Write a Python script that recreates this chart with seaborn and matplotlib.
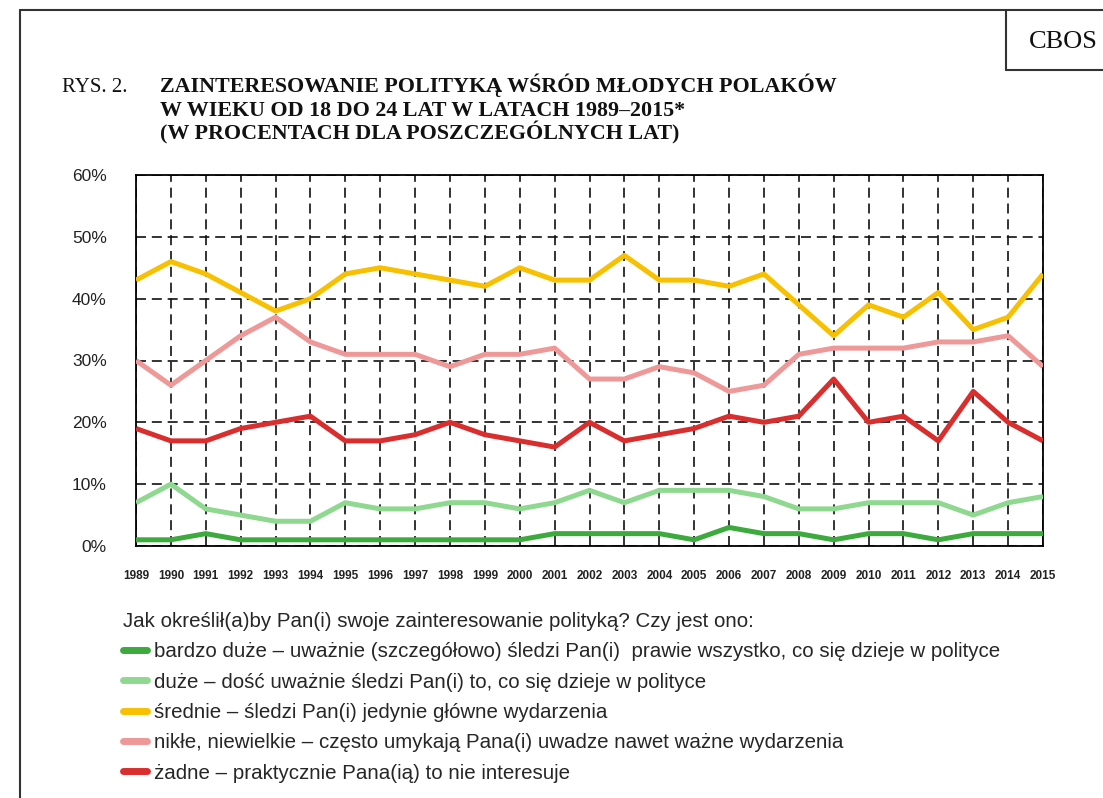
import matplotlib
matplotlib.use("Agg")
import matplotlib.pyplot as plt
from matplotlib import font_manager
from matplotlib.lines import Line2D
import seaborn as sns
import pandas as pd

years = list(range(1989, 2016))
bardzo_duze = [1, 1, 2, 1, 1, 1, 1, 1, 1, 1, 1, 1, 2, 2, 2, 2, 1, 3, 2, 2, 1, 2, 2, 1, 2, 2, 2]
duze = [7, 10, 6, 5, 4, 4, 7, 6, 6, 7, 7, 6, 7, 9, 7, 9, 9, 9, 8, 6, 6, 7, 7, 7, 5, 7, 8]
srednie = [43, 46, 44, 41, 38, 40, 44, 45, 44, 43, 42, 45, 43, 43, 47, 43, 43, 42, 44, 39, 34, 39, 37, 41, 35, 37, 44]
nikle = [30, 26, 30, 34, 37, 33, 31, 31, 31, 29, 31, 31, 32, 27, 27, 29, 28, 25, 26, 31, 32, 32, 32, 33, 33, 34, 29]
zadne = [19, 17, 17, 19, 20, 21, 17, 17, 18, 20, 18, 17, 16, 20, 17, 18, 19, 21, 20, 21, 27, 20, 21, 17, 25, 20, 17]

series_labels = [
    "bardzo duże – uważnie (szczegółowo) śledzi Pan(i)  prawie wszystko, co się dzieje w polityce",
    "duże – dość uważnie śledzi Pan(i) to, co się dzieje w polityce",
    "średnie – śledzi Pan(i) jedynie główne wydarzenia",
    "nikłe, niewielkie – często umykają Pana(i) uwadze nawet ważne wydarzenia",
    "żadne – praktycznie Pana(ią) to nie interesuje",
]
series_values = [bardzo_duze, duze, srednie, nikle, zadne]
colors = ["#3DAA3D", "#8FD88F", "#F7C000", "#EE9898", "#D92E2E"]
y_ticks = [0, 10, 20, 30, 40, 50, 60]
y_tick_labels = [f"{v}%" for v in y_ticks]
legend_header = "Jak określił(a)by Pan(i) swoje zainteresowanie polityką? Czy jest ono:"
title_lines = [
    "ZAINTERESOWANIE POLITYKĄ WŚRÓD MŁODYCH POLAKÓW",
    "W WIEKU OD 18 DO 24 LAT W LATACH 1989–2015*",
    "(W PROCENTACH DLA POSZCZEGÓLNYCH LAT)",
]

rows = []
for lab, vals in zip(series_labels, series_values):
    for y, v in zip(years, vals):
        rows.append({"rok": y, "wartosc": v, "seria": lab})
df = pd.DataFrame(rows)

sns.set_style("white")
names = {f.name for f in font_manager.fontManager.ttflist}
sans = "Liberation Sans Narrow" if "Liberation Sans Narrow" in names else "Liberation Sans"
serif = "Liberation Serif"
plt.rcParams["font.family"] = ["Liberation Sans", "DejaVu Sans"]

W, H = 1103, 798
fig = plt.figure(figsize=(W / 100, H / 100), dpi=100)
ax = fig.add_axes([136 / W, 1 - 546 / H, (1043 - 136) / W, (546 - 175) / H])

sns.lineplot(data=df, x="rok", y="wartosc", hue="seria", hue_order=series_labels,
             palette=colors, linewidth=3.6, legend=False, ax=ax)

ax.set_xlim(1989, 2015)
ax.set_ylim(0, 60)
ax.set_xticks(years)
ax.set_xticklabels([str(y) for y in years], fontsize=8.5, fontweight="bold", family=sans,
                   color="#222222")
ax.set_yticks(y_ticks)
ax.set_yticklabels(y_tick_labels, fontsize=12.5, color="#222222")
ax.set_xlabel("")
ax.set_ylabel("")
ax.grid(True, color="#111111", linestyle=(0, (6, 3.5)), linewidth=1.2)
ax.set_axisbelow(True)
for s in ax.spines.values():
    s.set_visible(True)
    s.set_color("black")
    s.set_linewidth(1.3)
ax.tick_params(axis="x", direction="out", length=11, width=1.3, color="black", pad=6)
ax.tick_params(axis="y", direction="out", length=10, width=1.3, color="black", pad=11)
for line in ax.get_lines():
    line.set_solid_capstyle("butt")
    line.set_zorder(3)

# legend
handles = [Line2D([], [], color=c, linewidth=5, solid_capstyle="round") for c in colors]
leg = fig.legend(handles, series_labels, loc="upper left",
                 bbox_to_anchor=(123 / W, 1 - 612 / H), frameon=False,
                 title=legend_header, alignment="left",
                 prop={"family": sans, "size": 14.8},
                 title_fontproperties={"family": sans, "size": 14.8},
                 handlelength=1.15, handletextpad=0.35, labelspacing=0.55,
                 borderaxespad=0, borderpad=0)

# title
fig.text(62 / W, 1 - 92 / H, "RYS. 2.", fontsize=15, family=serif, color="#111111")
for i, t in enumerate(title_lines):
    fig.text(160 / W, 1 - (92 + 23.5 * i) / H, t, fontsize=15.8, family=serif,
             fontweight="bold", color="#111111")

# frame and CBOS box
def fline(xs, ys, lw=1.5):
    fig.add_artist(Line2D([x / W for x in xs], [1 - y / H for y in ys],
                          color="#333333", linewidth=lw, transform=fig.transFigure))

fline([20, 1103], [10, 10])
fline([20, 20], [10, 798])
fline([1006, 1006], [10, 70])
fline([1006, 1103], [70, 70])
fig.text(1029 / W, 1 - 48 / H, "CBOS", fontsize=19, family=serif, color="#111111")

fig.savefig("out.png", dpi=100)
